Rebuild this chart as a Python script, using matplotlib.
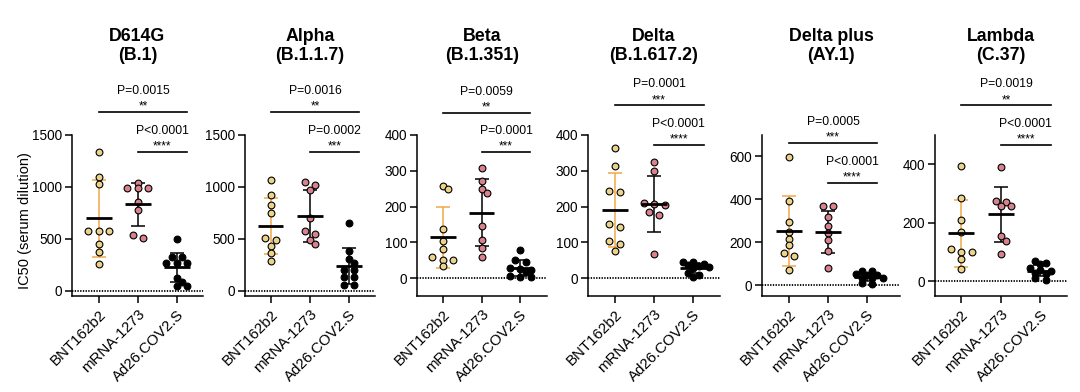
import numpy as np
import matplotlib
matplotlib.use("Agg")
import matplotlib.pyplot as plt
from matplotlib.transforms import blended_transform_factory

plt.rcParams['font.family'] = ['Liberation Sans', 'DejaVu Sans']

# ---------------- data ----------------
variants = ["D614G", "Alpha", "Beta", "Delta", "Delta plus", "Lambda"]
lineages = ["(B.1)", "(B.1.1.7)", "(B.1.351)", "(B.1.617.2)", "(AY.1)", "(C.37)"]
vaccines = ["BNT162b2", "mRNA-1273", "Ad26.COV2.S"]

bnt_values = [
    [1339, 1100, 1030, 575, 575, 575, 447, 373, 260],
    [1062, 927, 828, 752, 505, 485, 429, 368, 285],
    [258, 248, 138, 104, 82, 60, 51, 51, 33],
    [364, 314, 243, 240, 150, 142, 103, 96, 77],
    [597, 394, 295, 248, 217, 186, 151, 135, 70],
    [394, 284, 208, 167, 111, 101, 101, 78, 41],
]
mrna_values = [
    [1040, 986, 986, 986, 852, 775, 537, 511],
    [1045, 1020, 972, 700, 575, 550, 486, 448],
    [307, 272, 248, 237, 146, 107, 84, 58],
    [325, 298, 210, 208, 205, 184, 175, 68],
    [368, 368, 316, 274, 244, 213, 161, 81],
    [389, 275, 272, 258, 258, 154, 139, 92],
]
ad26_values = [
    [498, 328, 328, 270, 270, 270, 125, 87, 45, 45],
    [652, 384, 311, 263, 205, 205, 134, 134, 55, 55],
    [79, 52, 45, 27, 25, 23, 18, 5, 3, 2],
    [46, 44, 40, 37, 35, 30, 28, 13, 10, 2],
    [68, 66, 51, 50, 49, 35, 34, 33, 9, 7],
    [71, 62, 58, 45, 40, 35, 28, 25, 10, 5],
]
group_mean = [
    [697, 832, 227],
    [627, 723, 237],
    [114, 183, 28],
    [191, 207, 29],
    [253, 250, 39],
    [164, 229, 37],
]
group_sd = [
    [370, 209, 140],
    [269, 251, 175],
    [85, 94, 22],
    [103, 78, 14],
    [161, 98, 20],
    [115, 94, 18],
]
p_outer = ["P=0.0015", "P=0.0016", "P=0.0059", "P=0.0001", "P=0.0005", "P=0.0019"]
stars_outer = ["**", "**", "**", "***", "***", "**"]
p_inner = ["P<0.0001", "P=0.0002", "P=0.0001", "P<0.0001", "P<0.0001", "P<0.0001"]
stars_inner = ["****", "***", "***", "****", "****", "****"]

y_max = [1500, 1500, 400, 400, 700, 500]
y_min = -50
y_ticks = [
    [0, 500, 1000, 1500],
    [0, 500, 1000, 1500],
    [0, 100, 200, 300, 400],
    [0, 100, 200, 300, 400],
    [0, 200, 400, 600],
    [0, 200, 400],
]

# ---------------- layout / style ----------------
W, H = 1080, 392
axes_px = [(72, 203), (245, 375), (417, 547), (588, 720), (762, 900), (935, 1067)]
xlims = [(-0.69, 2.67), (-0.65, 2.66), (-0.67, 2.69), (-0.68, 2.68), (-0.69, 2.85), (-0.66, 2.67)]
top_px, bot_px = 135, 296
bracket_outer = [1.145, 1.145, 1.139, 1.186, 0.952, 1.186]
bracket_inner = [0.896, 0.896, 0.896, 0.938, 0.704, 0.938]

face_colors = ["#EBD38C", "#D7828C", "#000000"]
err_colors = ["#F0A846", "#000000", "#000000"]

fig = plt.figure(figsize=(W / 100, H / 100), dpi=100)


def swarm(vals, ppu_y, ppu_x, row_px=3.5, cap=3, step_px=10.5, coll_px=5.0):
    vals = np.asarray(vals, float)
    order = np.argsort(-vals, kind="stable")
    rows = []
    for idx in order:
        if rows and len(rows[-1]) < cap and (vals[rows[-1][0]] - vals[idx]) * ppu_y < row_px:
            rows[-1].append(idx)
        else:
            rows.append([idx])
    offs = np.zeros(len(vals))
    placed = []
    h = step_px / 2
    shifts = [0]
    for k in range(1, 8):
        shifts += [k * h, -k * h]
    for r in rows:
        n = len(r)
        base = [(k - (n - 1) / 2) * step_px for k in range(n)]
        for sh in shifts:
            ok = True
            for b, idx in zip(base, r):
                xp = b + sh
                yp = vals[idx] * ppu_y
                for (px, py) in placed:
                    if np.hypot(px - xp, py - yp) < coll_px:
                        ok = False
                        break
                if not ok:
                    break
            if ok:
                break
        for b, idx in zip(base, r):
            xp = b + sh
            offs[idx] = xp / ppu_x
            placed.append((xp, vals[idx] * ppu_y))
    return offs


for i in range(6):
    l, r = axes_px[i]
    ax = fig.add_axes([l / W, 1 - bot_px / H, (r - l) / W, (bot_px - top_px) / H])
    ax.set_xlim(*xlims[i])
    ax.set_ylim(y_min, y_max[i])
    ppu_y = (bot_px - top_px) / (y_max[i] - y_min)
    ppu_x = (r - l) / (xlims[i][1] - xlims[i][0])

    groups = [bnt_values[i], mrna_values[i], ad26_values[i]]
    for g, vals in enumerate(groups):
        offs = swarm(vals, ppu_y, ppu_x)
        ax.scatter(g + offs, vals, s=24, facecolor=face_colors[g], edgecolor="black",
                   linewidth=0.8, zorder=4, clip_on=False)
        ax.errorbar(g, group_mean[i][g], yerr=group_sd[i][g], fmt="none",
                    ecolor=err_colors[g], elinewidth=1.1, capsize=5.3, capthick=1.1, zorder=3)
        ax.hlines(group_mean[i][g], g - 0.33, g + 0.33, color="black", lw=2.0, zorder=5)

    ax.axhline(0, color="black", lw=1.3, ls=(0, (0.75, 0.75)), zorder=2)

    for s in ["top", "right"]:
        ax.spines[s].set_visible(False)
    for s in ["left", "bottom"]:
        ax.spines[s].set_linewidth(1.1)
    ax.set_yticks(y_ticks[i])
    ax.tick_params(axis="y", length=5, width=1.1, pad=2, labelsize=9.8)
    ax.set_xticks([0, 1, 2])
    ax.set_xticklabels(vaccines, rotation=45, ha="right", rotation_mode="anchor", fontsize=10.8)
    ax.tick_params(axis="x", length=5, width=1.1, pad=3)

    # brackets
    tr = blended_transform_factory(ax.transData, ax.transAxes)
    for (x0, yb, ptxt, stxt) in [(0, bracket_outer[i], p_outer[i], stars_outer[i]),
                                 (1, bracket_inner[i], p_inner[i], stars_inner[i])]:
        x1 = 2.26
        ax.plot([x0, x1], [yb, yb], color="black", lw=1.2, transform=tr, clip_on=False)
        xc = (x0 + x1) / 2
        ax.annotate(ptxt, xy=(xc, yb), xycoords=tr, xytext=(0, 13), textcoords="offset points",
                    ha="center", va="baseline", fontsize=8.7)
        ax.annotate(stxt, xy=(xc, yb), xycoords=tr, xytext=(0, 1.5), textcoords="offset points",
                    ha="center", va="baseline", fontsize=8.5)

    # titles
    xc_px = (l + r) / 2
    fig.text(xc_px / W, 1 - 41 / H, variants[i], ha="center", va="baseline",
             fontsize=12.8, fontweight="bold")
    fig.text(xc_px / W, 1 - 60 / H, lineages[i], ha="center", va="baseline",
             fontsize=12.8, fontweight="bold")

fig.text(25 / W, 1 - 221 / H, "IC50 (serum dilution)", rotation=90, ha="center",
         va="center", fontsize=10.5)

fig.savefig("out.png", dpi=100)
